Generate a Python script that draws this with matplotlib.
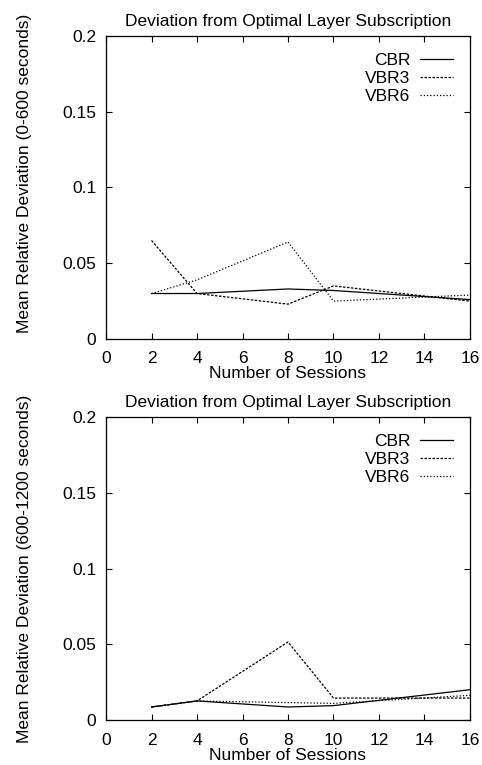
import matplotlib.pyplot as plt
from matplotlib.ticker import FormatStrFormatter

plt.rcParams['font.family'] = ['Liberation Sans', 'DejaVu Sans']

sessions = [2, 4, 8, 10, 16]

# 0-600 seconds
cbr_a = [0.030, 0.030, 0.033, 0.032, 0.026]
vbr3_a = [0.065, 0.030, 0.023, 0.035, 0.025]
vbr6_a = [0.030, 0.039, 0.064, 0.025, 0.029]

# 600-1200 seconds
cbr_b = [0.0086, 0.0126, 0.0086, 0.0095, 0.020]
vbr3_b = [0.0086, 0.0126, 0.0515, 0.0145, 0.0145]
vbr6_b = [0.0086, 0.0126, 0.0115, 0.0110, 0.0163]

series_names = ['CBR', 'VBR3', 'VBR6']
styles = ['-', (0, (2.0, 1.2)), (0, (1.0, 1.6))]

title = 'Deviation from Optimal Layer Subscription'
ylabels = ['Mean Relative Deviation (0-600 seconds)',
           'Mean Relative Deviation (600-1200 seconds)']

fs = 12.5

fig = plt.figure(figsize=(4.82, 7.65), dpi=100)
ax1 = fig.add_axes([0.22, 0.5569, 0.755, 0.3961])
ax2 = fig.add_axes([0.22, 0.0588, 0.755, 0.3961])

for ax, data, ylab in [(ax1, [cbr_a, vbr3_a, vbr6_a], ylabels[0]),
                       (ax2, [cbr_b, vbr3_b, vbr6_b], ylabels[1])]:
    for name, vals, ls in zip(series_names, data, styles):
        ax.plot(sessions, vals, color='black', linestyle=ls, linewidth=0.9, label=name)
    ax.set_xlim(0, 16)
    ax.set_ylim(0, 0.2)
    ax.set_xticks(range(0, 17, 2))
    ax.set_yticks([0, 0.05, 0.1, 0.15, 0.2])
    ax.yaxis.set_major_formatter(FormatStrFormatter('%g'))
    ax.tick_params(direction='in', top=True, right=True, length=4, width=0.8,
                   labelsize=fs)
    ax.tick_params(axis='x', pad=9)
    ax.tick_params(axis='y', pad=7)
    for sp in ax.spines.values():
        sp.set_linewidth(0.9)
    ax.set_title(title, fontsize=fs, pad=7)
    ax.set_xlabel('Number of Sessions', fontsize=fs, labelpad=0)
    ax.set_ylabel(ylab, fontsize=fs, labelpad=22)
    ax.legend(loc='upper right', frameon=False, markerfirst=False, fontsize=fs,
              handlelength=1.9, handletextpad=0.57, labelspacing=0.17,
              borderaxespad=0.55)

ax1.yaxis.label.set_y(0.545)

fig.savefig('out.png', dpi=100)
